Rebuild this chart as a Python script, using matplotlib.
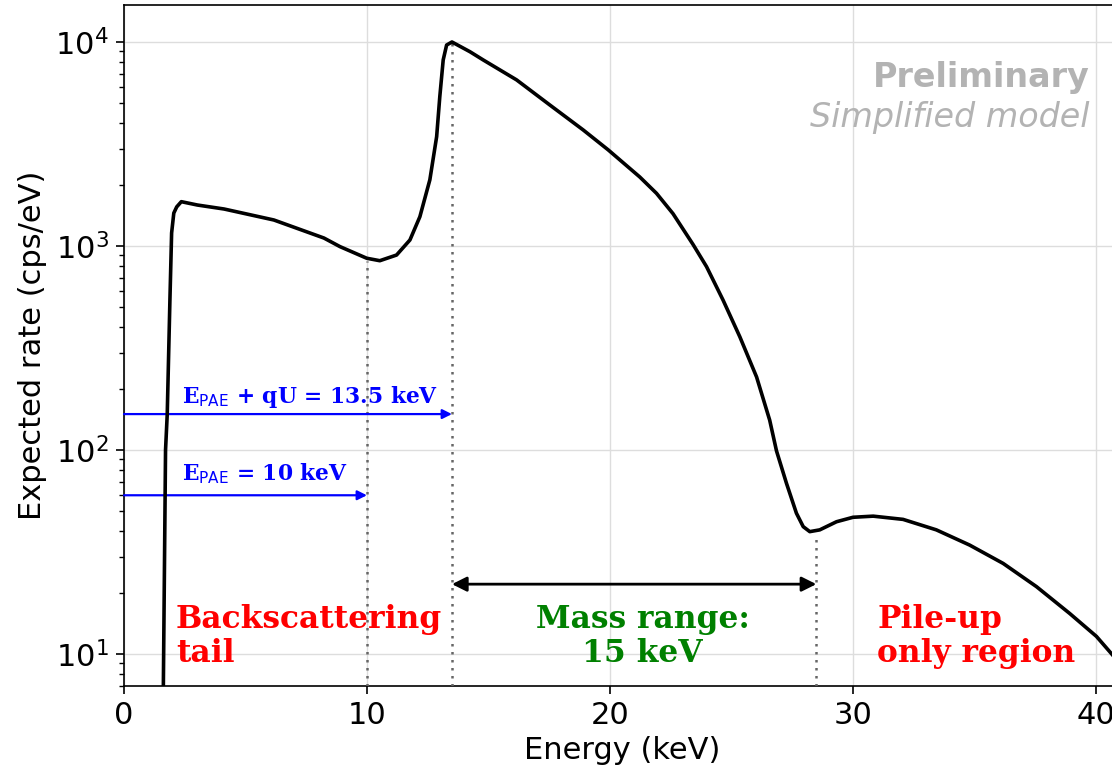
import matplotlib
matplotlib.use("Agg")
import matplotlib.pyplot as plt

# Expected differential rate of the simplified spectrum model
energy_kev = [1.55, 1.62, 1.71, 1.78, 1.89, 1.96, 2.05, 2.17, 2.36, 3.02, 4.12,
              6.17, 8.23, 8.89, 9.99, 10.53, 11.22, 11.77, 12.18, 12.59,
              12.87, 13.00, 13.14, 13.28, 13.5, 14.24, 14.79, 16.16, 17.53,
              18.90, 19.93, 21.23, 21.92, 22.60, 23.43, 23.98, 24.66, 25.35,
              26.04, 26.58, 26.86, 27.27, 27.68, 27.96, 28.23, 28.64, 29.33,
              30.01, 30.84, 32.07, 33.44, 34.81, 36.19, 37.56, 38.93, 40.03,
              40.66, 41.2]
rate_cps_per_ev = [5.0, 7.0, 100, 150, 543, 1158, 1450, 1555, 1649, 1588, 1518,
                   1341, 1094, 993, 871, 847, 903, 1070, 1392, 2110,
                   3435, 5400, 8170, 9660, 10000, 8960, 8160, 6520, 4910,
                   3707, 2960, 2180, 1812, 1440, 1015, 792, 543, 359,
                   228, 140, 99, 68.7, 49.0, 42.1, 39.8, 40.6, 44.5,
                   46.8, 47.4, 45.7, 40.6, 34.2, 27.8, 21.4, 15.8, 12.2,
                   10.0, 8.4]

# Reference energies (keV)
e_pae = 10.0
e_pae_qu = 13.5
pileup_start = 28.5
mass_range = pileup_start - e_pae_qu
rate_at_e_pae = 870
rate_at_e_pae_qu = 10000
rate_at_pileup = 39.8

# Heights (cps/eV) of the horizontal annotation arrows
arrow_rate_qu = 150
arrow_rate_pae = 60
mass_arrow_rate = 22

fig = plt.figure(figsize=(11.12, 7.73), dpi=100)
ax = fig.add_axes([124 / 1112, 87 / 773, 996 / 1112, 681 / 773])

ax.plot(energy_kev, rate_cps_per_ev, color="black", lw=2.6, zorder=5,
        solid_joinstyle="round")

ax.set_yscale("log")
ax.set_xlim(0, 41)
ax.set_ylim(6.97, 15180)
ax.set_xticks([0, 10, 20, 30, 40])

ax.grid(True, which="major", color="#dddddd", lw=1.0)
ax.set_axisbelow(True)

for sp in ax.spines.values():
    sp.set_linewidth(1.2)
ax.tick_params(which="major", labelsize=22, length=6, width=1.2, pad=5)
ax.tick_params(which="minor", length=3.5, width=1.0)

ax.set_xlabel("Energy (keV)", fontsize=22, labelpad=4)
ax.set_ylabel("Expected rate (cps/eV)", fontsize=22, labelpad=6)

# Vertical reference lines
ymin = ax.get_ylim()[0]
dot_kw = dict(color="#666666", ls=(0, (1, 2.2)), lw=1.8, zorder=3)
ax.vlines(e_pae, ymin, rate_at_e_pae * 0.97, **dot_kw)
ax.vlines(e_pae_qu, ymin, rate_at_e_pae_qu, **dot_kw)
ax.vlines(pileup_start, ymin, rate_at_pileup * 0.97, **dot_kw)

# Blue energy arrows
blue_arrow = dict(arrowstyle="-|>", color="blue", lw=1.6,
                  mutation_scale=14, shrinkA=0, shrinkB=0)
ax.annotate("", xy=(e_pae_qu, arrow_rate_qu), xytext=(0, arrow_rate_qu),
            arrowprops=blue_arrow, zorder=4)
ax.annotate("", xy=(e_pae, arrow_rate_pae), xytext=(0, arrow_rate_pae),
            arrowprops=blue_arrow, zorder=4)
ax.text(2.39, 170, r"E$_{\rm PAE}$ + qU = 13.5 keV", color="blue",
        fontsize=15.7, family="DejaVu Serif", weight="bold", va="baseline")
ax.text(2.39, 71.3, r"E$_{\rm PAE}$ = 10 keV", color="blue",
        fontsize=15.7, family="DejaVu Serif", weight="bold", va="baseline")

# Mass range arrow
ax.annotate("", xy=(pileup_start, mass_arrow_rate),
            xytext=(e_pae_qu, mass_arrow_rate),
            arrowprops=dict(arrowstyle="<|-|>", color="black", lw=2.0,
                            mutation_scale=22, shrinkA=0, shrinkB=0),
            zorder=4)

region_kw = dict(fontsize=22.5, family="DejaVu Serif", weight="bold",
                 va="center", linespacing=1.15)
ax.text(2.14, 12.2, "Backscattering\ntail", color="red", ha="left", **region_kw)
ax.text(21.35, 12.2, f"Mass range:\n{mass_range:.0f} keV",
        color="green", ha="center", multialignment="center", **region_kw)
ax.text(31.0, 12.2, "Pile-up\nonly region", color="red", ha="left", **region_kw)

ax.text(39.75, 6040, "Preliminary", color="#b3b3b3", fontsize=24,
        weight="bold", ha="right", va="baseline")
ax.text(39.75, 3846, "Simplified model", color="#b3b3b3", fontsize=24,
        style="italic", ha="right", va="baseline")

fig.savefig("out.png", dpi=100)
